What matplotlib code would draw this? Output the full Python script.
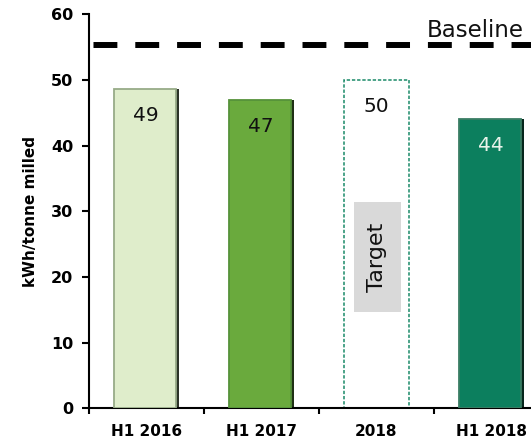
import matplotlib
matplotlib.use('Agg')
import matplotlib.pyplot as plt
import numpy as np

# data
periods = ['H1 2016', 'H1 2017', '2018', 'H1 2018']
values = [48.6, 47.0, 50.0, 44.0]
value_labels = ['49', '47', '50', '44']
is_target = [False, False, True, False]
baseline = 55.4

face_colors = ['#dfedcb', '#6aaa3d', '#ffffff', '#0c7f5e']
edge_colors = ['#97ab88', '#56923a', '#1a8a68', '#3a7d64']
shadow_colors = ['#2c3328', '#1f3015', '#ffffff', '#07261c']
label_colors = ['#111111', '#111111', '#111111', '#e8f3ea']

plt.rcParams['font.family'] = ['DejaVu Sans']

fig = plt.figure(figsize=(5.31, 4.41), dpi=100)
ax = fig.add_axes([0.1667, 0.0741, 0.867, 0.8934])

x = np.arange(len(periods))
for i in x:
    if is_target[i]:
        ax.bar(i, values[i], width=0.565, color='white', edgecolor=edge_colors[i],
               linewidth=1.1, linestyle=(0, (2.2, 1.2)), zorder=2)
    else:
        ax.bar(i + 0.013, values[i], width=0.545, color=shadow_colors[i], zorder=2)
        ax.bar(i - 0.012, values[i], width=0.54, color=face_colors[i],
               edgecolor=edge_colors[i], linewidth=1.3, zorder=3)
    ax.annotate(value_labels[i], (i, values[i]), xytext=(0, -19),
                textcoords='offset points', ha='center', va='center',
                fontsize=14.5, color=label_colors[i], zorder=4)

# "Target" tag inside the target bar
ti = is_target.index(True)
ax.text(ti + 0.01, values[ti] * 0.46, ' Target ', rotation=90, ha='center', va='center',
        fontsize=16, color='#111111', zorder=4,
        bbox=dict(boxstyle='square,pad=0.6', facecolor='#d9d9d9', edgecolor='none'))

# baseline
ax.axhline(baseline, color='black', linewidth=4.3, linestyle=(6.25, (4, 3)), zorder=1)
ax.text(3.28, baseline + 1.1, 'Baseline', ha='right', va='baseline', fontsize=16.5, color='#111111')

ax.set_xlim(-0.5, 3.5)
ax.set_ylim(0, 60)
ax.set_yticks(np.arange(0, 61, 10))
ax.set_xticks(x)
ax.set_xticklabels(periods)
ax.set_xticks(np.arange(-0.5, 3.6, 1), minor=True)
ax.tick_params(axis='x', which='major', length=0, pad=11, labelsize=11)
ax.tick_params(axis='x', which='minor', length=4, width=1.5, direction='out')
ax.tick_params(axis='y', length=5, width=1.5, pad=6, labelsize=11.5)
for lab in ax.get_xticklabels() + ax.get_yticklabels():
    lab.set_fontweight('bold')

ax.set_ylabel('kWh/tonne milled', fontsize=11, fontweight='bold')
ax.yaxis.set_label_coords(-0.11, 0.5)

for side in ['top', 'right']:
    ax.spines[side].set_visible(False)
for side in ['left', 'bottom']:
    ax.spines[side].set_linewidth(1.5)

fig.savefig('out.png', dpi=100)
